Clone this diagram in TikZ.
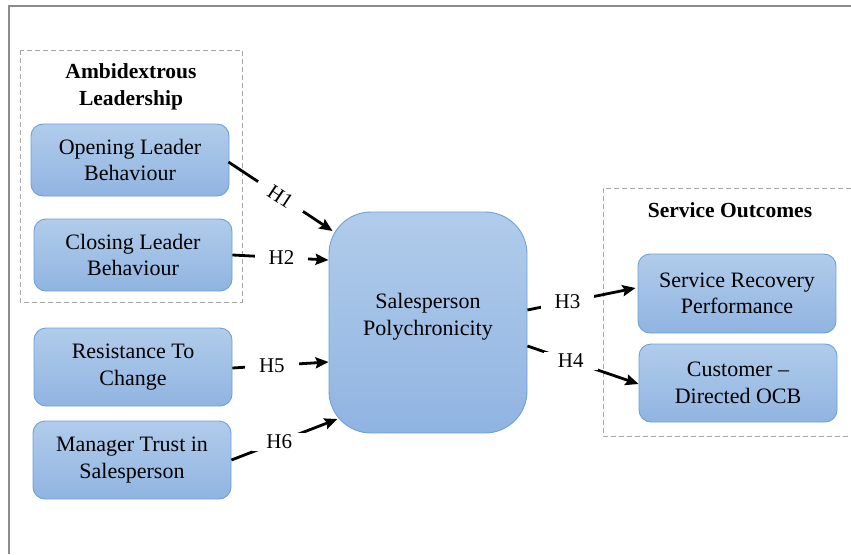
\documentclass[tikz,border=0pt]{standalone}
\usepackage{fontspec}
\setmainfont{Liberation Serif}
\usetikzlibrary{arrows.meta,calc}
\definecolor{boxtop}{HTML}{B1CCEB}
\definecolor{boxbot}{HTML}{90B4E1}
\definecolor{boxline}{HTML}{6FA0D8}
\definecolor{frameg}{HTML}{8C8C8C}
\definecolor{dashg}{HTML}{A6A6A6}
\tikzset{
  varbox/.style={draw=boxline, line width=0.9pt, rounded corners=12pt,
    top color=boxtop, bottom color=boxbot, align=center,
    font=\fontsize{22}{26.5}\selectfont, inner sep=0pt},
  groupbox/.style={draw=dashg, line width=1pt, dash pattern=on 5pt off 3pt},
  grouptitle/.style={font=\fontsize{21.5}{27}\selectfont\bfseries, align=center},
  conn/.style={line width=2.8pt, -{Stealth[length=13pt,width=11pt,inset=2pt]}},
  hlbl/.style={fill=white, inner xsep=14pt, inner ysep=2pt, font=\fontsize{21}{24}\selectfont},
}
\begin{document}
\begin{tikzpicture}[x=1pt,y=-1pt]
\useasboundingbox (0,0) rectangle (851,554);
\fill[white] (0,0) rectangle (851,554);
% outer frame
\draw[frameg, line width=2pt] (9,554) -- (9,6) -- (851,6);
% group boxes
\draw[groupbox] (20,50) rectangle (242,302);
\node[grouptitle] (ambt) at (131,87) {Ambidextrous\\Leadership};
\draw[groupbox] (851,188) -- (603,188) -- (603,436) -- (851,436);
\node[grouptitle] (sot) at (730,210) {Service Outcomes};
% nodes
\node[varbox, minimum width=198pt, minimum height=72pt] (open) at (130,160) {Opening Leader\\Behaviour};
\node[varbox, minimum width=198pt, minimum height=72pt] (close) at (133,255) {Closing Leader\\Behaviour};
\node[varbox, minimum width=198pt, minimum height=78pt] (resist) at (133,367) {Resistance To\\Change};
\node[varbox, minimum width=198pt, minimum height=78pt] (trust) at (132,460) {Manager Trust in\\Salesperson};
\node[varbox, minimum width=198pt, minimum height=221pt, rounded corners=42pt] (sales) at (428,322.5) {\raisebox{6pt}[\height][\depth]{\begin{tabular}{@{}c@{}}Salesperson\\Polychronicity\end{tabular}}};
\node[varbox, minimum width=198pt, minimum height=79pt] (srp) at (737,293.5) {Service Recovery\\Performance};
\node[varbox, minimum width=198pt, minimum height=78pt] (cdo) at (738,383) {Customer –\\Directed OCB};
% connectors
\draw[conn] ([xshift=-1pt,yshift=-2pt]open.east) -- node[hlbl, sloped, pos=0.5] {H1} ([xshift=4pt,yshift=91.5pt]sales.west);
\draw[conn] (close.east) -- node[hlbl, pos=0.51] {H2} ([yshift=62.5pt]sales.west);
\draw[conn] ([yshift=-1pt]resist.east) -- node[hlbl, pos=0.41] {H5} ([yshift=-39.5pt]sales.west);
\draw[conn] (trust.east) -- node[hlbl, pos=0.45] {H6} ([xshift=9pt,yshift=-96.5pt]sales.west);
\draw[conn] ([yshift=12.5pt]sales.east) -- node[hlbl, pos=0.37] {H3} ([xshift=-2pt,yshift=5.5pt]srp.west);
\draw[conn] ([yshift=-23.5pt]sales.east) -- node[hlbl, pos=0.39] {H4} ([yshift=-1pt]cdo.west);
\end{tikzpicture}
\end{document}
